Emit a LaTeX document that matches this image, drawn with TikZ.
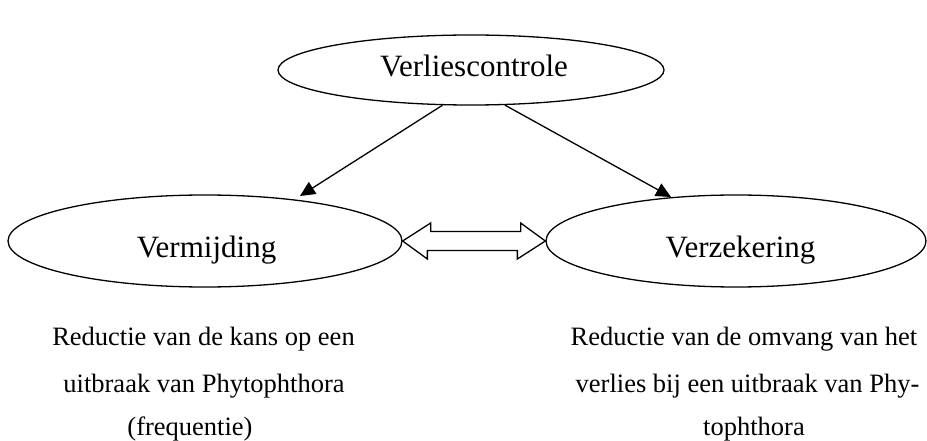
\documentclass[tikz,border=0pt]{standalone}
\usepackage{fontspec}
\setmainfont{Liberation Serif}
\usetikzlibrary{shapes.geometric,arrows.meta}
\begin{document}
\begin{tikzpicture}[x=1pt,y=-1pt,
  oval/.style={draw, ellipse, line width=1.3pt, inner sep=0pt},
  big/.style={font=\fontsize{31}{37}\selectfont, anchor=base, inner sep=0pt},
  small/.style={font=\fontsize{26.5}{32}\selectfont, anchor=base, inner sep=0pt},
  arr/.style={line width=1.3pt, -{Triangle[length=15pt,width=14pt]}},
  dbl/.style={draw, line width=1.3pt, fill=white, line join=miter}]
\useasboundingbox (0,0) rectangle (927,441);
% ellipses
\node[oval, minimum width=386pt, minimum height=70pt] (top) at (471,70) {};
\node[oval, minimum width=394pt, minimum height=92pt] (left) at (205,241) {};
\node[oval, minimum width=380pt, minimum height=92pt] (right) at (736,241) {};
% labels
\node[big] (toplabel) at (474,77) {Verliescontrole};
\node[big] (leftlabel) at (206.5,257) {Vermijding};
\node[big] (rightlabel) at (740.5,257) {Verzekering};
% arrows
\coordinate (lt) at (300,196);
\coordinate (rt) at (671,197);
\draw[arr] (top.231) -- (lt);
\draw[arr] (top.314.5) -- (rt);
% double arrow between Vermijding and Verzekering
\draw[dbl] (left.east) -- ++(28,-18) -- ++(0,8.5) -- ++(90,0) -- ++(0,-8.5)
  -- (right.west) -- ++(-28,18) -- ++(0,-8.5) -- ++(-90,0) -- ++(0,8.5) -- cycle;
% descriptions
\node[small] (l1) at (203.5,345) {Reductie van de kans op een};
\node[small] (l2) at (204,392) {uitbraak van Phytophthora};
\node[small] (l3) at (190,435) {(frequentie)};
\node[small] (r1) at (744,345) {Reductie van de omvang van het};
\node[small] (r2) at (747.5,392) {verlies bij een uitbraak van Phy-};
\node[small] (r3) at (754,435) {tophthora};
\end{tikzpicture}
\end{document}
